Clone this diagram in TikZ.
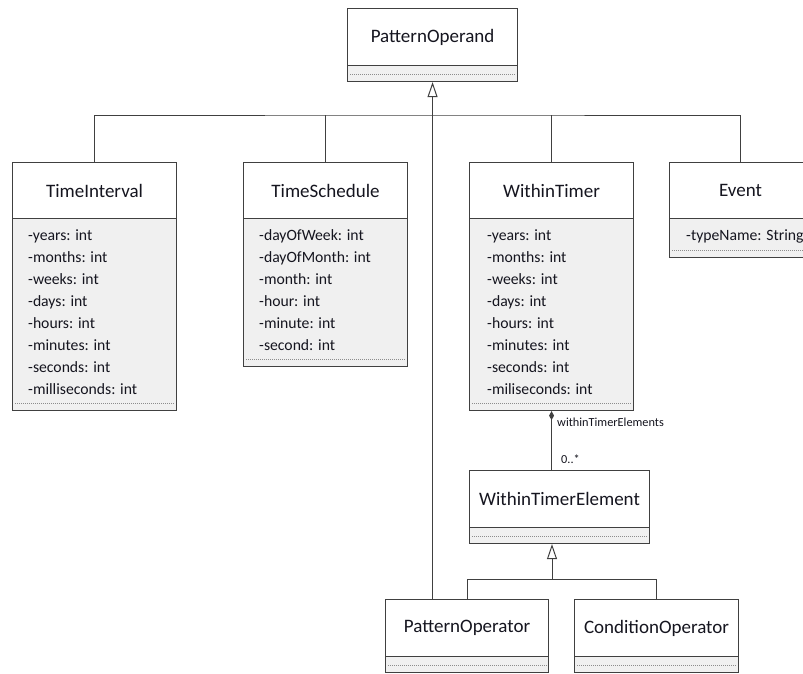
\documentclass[tikz,border=0pt]{standalone}
\usepackage{fontspec}
\setmainfont{Carlito}
\usetikzlibrary{arrows.meta}
\definecolor{bord}{HTML}{404040}
\definecolor{comp}{HTML}{F0F0F0}
\definecolor{txt}{HTML}{15151F}
\tikzset{
 hdr/.style={draw=bord, fill=white, line width=1.1pt, anchor=north west, inner sep=0pt, font=\fontsize{19}{21}\selectfont, text=txt},
 cmp/.style={draw=bord, fill=comp, line width=1.1pt, anchor=north west, inner sep=0pt},
 attr/.style={anchor=base west, inner sep=0pt, font=\fontsize{15.7}{18}\selectfont, text=txt},
 lbl/.style={anchor=west, inner sep=0pt, font=\fontsize{12.3}{14}\selectfont, text=txt},
 dots/.style={draw=gray!90, line width=0.8pt, dash pattern=on 1pt off 1pt},
 link/.style={draw=bord, line width=1pt},
 inh/.style={link, -{Triangle[open, length=15pt, width=10pt]}},
}
\newcommand\klass[7]{%
 \node[hdr, minimum width=#4pt, minimum height=#5pt] (#1) at (#2,#3) {#7};
 \node[cmp, minimum width=#4pt, minimum height=#6pt] (#1-c) at (#2,#3+#5) {};
 \draw[dots] ([xshift=3pt,yshift=8pt]#1-c.south west) -- ([xshift=-3pt,yshift=8pt]#1-c.south east);
}
\newcommand\attrs[4]{% name, x, top, list
 \foreach \t [count=\i] in {#4} \node[attr] (#1-a\i) at (#2,#3+\i*22) {\t};
}
\begin{document}
\begin{tikzpicture}[x=1pt,y=-1pt]
\useasboundingbox (0,0) rectangle (803,673);
\fill[white] (0,0) rectangle (803,673);
\clip (0,0) rectangle (803,673);

\klass{po}{347}{8}{170}{57}{16}{PatternOperand}
\klass{ti}{12}{162}{164}{56}{192}{TimeInterval}
\klass{ts}{243}{162}{164}{56}{148}{TimeSchedule}
\klass{wt}{469}{162}{164}{56}{192}{WithinTimer}
\klass{ev}{669}{162}{142}{56}{39}{Event}
\klass{wte}{469}{470}{180}{57}{16}{WithinTimerElement}
\klass{pop}{385}{599}{163}{57}{16}{PatternOperator}
\klass{cop}{574}{599}{164}{57}{16}{ConditionOperator}

\attrs{ti}{28}{218}{-years: int,-months: int,-weeks: int,-days: int,-hours: int,-minutes: int,-seconds: int,-milliseconds: int}
\attrs{ts}{259}{218}{-dayOfWeek: int,-dayOfMonth: int,-month: int,-hour: int,-minute: int,-second: int}
\attrs{wt}{487}{218}{-years: int,-months: int,-weeks: int,-days: int,-hours: int,-minutes: int,-seconds: int,-miliseconds: int}
\attrs{ev}{686}{218}{-typeName: String}

% generalisation tree to PatternOperand
\coordinate (bus) at (432,115);
\draw[link] (ti.north) |- (bus) -| (ev.north);
\draw[link] (ts.north) -- (ts.north |- bus);
\draw[link] (wt.north) -- (wt.north |- bus);
\draw[inh] (po-c.south |- pop.north) -- (po-c.south);

% composition
\draw[link, {Diamond[length=9pt,width=5pt]}-] (wt-c.south) -- (wt-c.south |- wte.north);
\node[lbl] (role) at (557,422) {withinTimerElements};
\node[lbl] (mult) at (561,459) {0..*};

% generalisation tree to WithinTimerElement
\coordinate (bus2) at (552,579);
\draw[inh] (bus2) -- (bus2 |- wte-c.south);
\draw[link] (pop.north) |- (bus2) -| (cop.north);
\end{tikzpicture}
\end{document}
